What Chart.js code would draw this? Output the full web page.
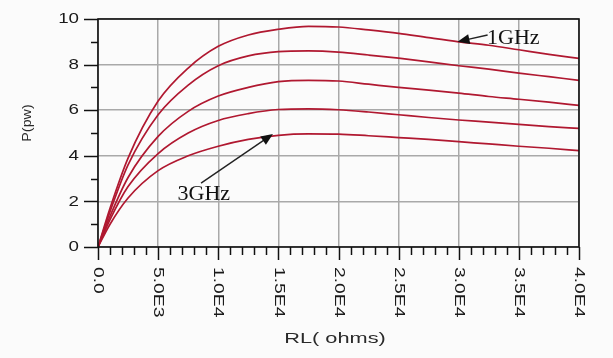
<!DOCTYPE html>
<html>
<head>
<meta charset="utf-8">
<script src="https://cdn.jsdelivr.net/npm/chart.js@4/dist/chart.umd.min.js"></script>
<style>
    html, body { margin: 0; padding: 0; background: #fbfbfb; }
    #wrap { width: 613px; height: 358px; }
</style>
</head>
<body>
<div id="wrap"><canvas id="chart" width="613" height="358"></canvas></div>
<script>
// Load resistance values (ohms) where the curves were read
const rl = [0, 1000, 2500, 5000, 7500, 10000, 12500, 15000, 17500, 20000,
    22500, 25000, 27500, 30000, 32500, 35000, 37500, 40000];

// Power curves, top (1GHz) to bottom (3GHz)
const p1GHz   = [0, 1.7, 3.9, 6.4, 7.85, 8.8, 9.3, 9.55, 9.68, 9.65, 9.52, 9.37, 9.18, 9.0, 8.85, 8.65, 8.45, 8.27];
const p15GHz  = [0, 1.55, 3.6, 5.8, 7.1, 7.95, 8.38, 8.57, 8.6, 8.55, 8.42, 8.28, 8.12, 7.95, 7.8, 7.63, 7.47, 7.31];
const p2GHz   = [0, 1.35, 3.05, 4.85, 5.95, 6.62, 7.0, 7.25, 7.31, 7.28, 7.14, 7.0, 6.88, 6.75, 6.6, 6.48, 6.35, 6.21];
const p25GHz  = [0, 1.2, 2.65, 4.1, 5.0, 5.55, 5.85, 6.03, 6.06, 6.02, 5.92, 5.8, 5.68, 5.57, 5.48, 5.38, 5.28, 5.2];
const p3GHz   = [0, 1.0, 2.15, 3.35, 4.0, 4.42, 4.72, 4.9, 4.96, 4.95, 4.88, 4.8, 4.72, 4.62, 4.52, 4.42, 4.33, 4.23];

const seriesNames = ['1GHz', '1.5GHz', '2GHz', '2.5GHz', '3GHz'];
const seriesValues = [p1GHz, p15GHz, p2GHz, p25GHz, p3GHz];

// Tick labels
const xTickValues = [0, 5000, 10000, 15000, 20000, 25000, 30000, 35000, 40000];
const xTickLabels = ['0.0', '5.0E3', '1.0E4', '1.5E4', '2.0E4', '2.5E4', '3.0E4', '3.5E4', '4.0E4'];
const yTickValues = [0, 2, 4, 6, 8, 10];
const yTickLabels = ['0', '2', '4', '6', '8', '10'];

//Стрелка с закрашенным наконечником
function drawArrow(ctx, x1, y1, x2, y2) {
    const ang = Math.atan2(y2 - y1, x2 - x1);
    const hl = 12, hw = 5;
    ctx.beginPath();
    ctx.moveTo(x1, y1);
    ctx.lineTo(x2 - Math.cos(ang) * hl * 0.8, y2 - Math.sin(ang) * hl * 0.8);
    ctx.stroke();
    ctx.beginPath();
    ctx.moveTo(x2, y2);
    ctx.lineTo(x2 - Math.cos(ang) * hl - Math.sin(ang) * hw, y2 - Math.sin(ang) * hl + Math.cos(ang) * hw);
    ctx.lineTo(x2 - Math.cos(ang) * hl + Math.sin(ang) * hw, y2 - Math.sin(ang) * hl - Math.cos(ang) * hw);
    ctx.closePath();
    ctx.fill();
}

//Рамка, засечки, подписи осей и стрелки
const decor = {
    id: 'decor',
    afterDraw(chart) {
        const ctx = chart.ctx;
        const a = chart.chartArea;
        const x = chart.scales.x;
        const y = chart.scales.y;
        ctx.save();

        ctx.strokeStyle = '#111';
        ctx.lineWidth = 1.6;
        ctx.strokeRect(a.left, a.top, a.right - a.left, a.bottom - a.top);

        // y ticks
        ctx.lineWidth = 1.5;
        for (let v = 0; v <= 10; v++) {
            const py = Math.round(y.getPixelForValue(v)) + 0.5;
            const len = v % 2 === 0 ? 14 : 7;
            ctx.beginPath();
            ctx.moveTo(a.left - len, py);
            ctx.lineTo(a.left, py);
            ctx.stroke();
        }
        // x ticks
        for (let v = 0; v <= 40000; v += 1000) {
            const px = Math.round(x.getPixelForValue(v)) + 0.5;
            const len = v % 5000 === 0 ? 13 : 8;
            ctx.beginPath();
            ctx.moveTo(px, a.bottom);
            ctx.lineTo(px, a.bottom + len);
            ctx.stroke();
        }

        ctx.fillStyle = '#1a1a1a';
        ctx.font = '15px "Liberation Sans", Arial, sans-serif';
        ctx.textAlign = 'right';
        ctx.textBaseline = 'middle';
        yTickValues.forEach((v, i) => {
            ctx.save();
            ctx.translate(79, y.getPixelForValue(v));
            ctx.scale(1.25, 1);
            ctx.fillText(yTickLabels[i], 0, 0);
            ctx.restore();
        });

        ctx.font = '14px "Liberation Sans", Arial, sans-serif';
        ctx.textAlign = 'left';
        xTickValues.forEach((v, i) => {
            ctx.save();
            ctx.translate(x.getPixelForValue(v), a.bottom + 20);
            ctx.rotate(Math.PI / 2);
            ctx.scale(1.38, 1);
            ctx.fillText(xTickLabels[i], 0, 0);
            ctx.restore();
        });

        // axis titles
        ctx.fillStyle = '#2a2a2a';
        ctx.textAlign = 'center';
        ctx.font = '15px "Liberation Sans", Arial, sans-serif';
        ctx.save();
        ctx.translate(335, 339);
        ctx.scale(1.45, 1);
        ctx.fillText('RL( ohms)', 0, 0);
        ctx.restore();

        ctx.font = '13px "Liberation Sans", Arial, sans-serif';
        ctx.save();
        ctx.translate(27, 123);
        ctx.rotate(-Math.PI / 2);
        ctx.scale(1.1, 1);
        ctx.fillText('P(pw)', 0, 0);
        ctx.restore();

        // annotations
        ctx.fillStyle = '#111';
        ctx.strokeStyle = '#222';
        ctx.lineWidth = 1.4;
        drawArrow(ctx, x.getPixelForValue(32400), y.getPixelForValue(9.3),
            x.getPixelForValue(29900), y.getPixelForValue(9.0));
        drawArrow(ctx, x.getPixelForValue(8570), y.getPixelForValue(2.8),
            x.getPixelForValue(14550), y.getPixelForValue(4.96));

        ctx.font = '22px "Liberation Serif", "Times New Roman", serif';
        ctx.textAlign = 'left';
        ctx.fillText('1GHz', x.getPixelForValue(32350), y.getPixelForValue(9.14));
        ctx.textAlign = 'center';
        ctx.fillText('3GHz', x.getPixelForValue(8800), y.getPixelForValue(2.32));

        ctx.restore();
    }
};

document.addEventListener('DOMContentLoaded', () => {
    new Chart(
        document.getElementById('chart'),
        {
            type: 'line',
            data: {
                datasets: seriesValues.map((vals, i) => ({
                    label: seriesNames[i],
                    data: rl.map((r, j) => ({ x: r, y: vals[j] })),
                    borderColor: '#b01830',
                    borderWidth: 1.7,
                    pointRadius: 0,
                    fill: false,
                    cubicInterpolationMode: 'monotone'
                }))
            },
            options: {
                responsive: false,
                animation: false,
                layout: {
                    padding: { left: 98, right: 34, top: 19, bottom: 111 }
                },
                plugins: {
                    legend: { display: false },
                    tooltip: { enabled: false }
                },
                scales: {
                    x: {
                        type: 'linear',
                        min: 0,
                        max: 40000,
                        ticks: { display: false, stepSize: 5000 },
                        grid: { color: '#a9a9a9', lineWidth: 1.5, drawTicks: false },
                        border: { display: false }
                    },
                    y: {
                        min: 0,
                        max: 10,
                        ticks: { display: false, stepSize: 2 },
                        grid: { color: '#a9a9a9', lineWidth: 1.5, drawTicks: false },
                        border: { display: false }
                    }
                }
            },
            plugins: [decor]
        }
    );
});
</script>
</body>
</html>
